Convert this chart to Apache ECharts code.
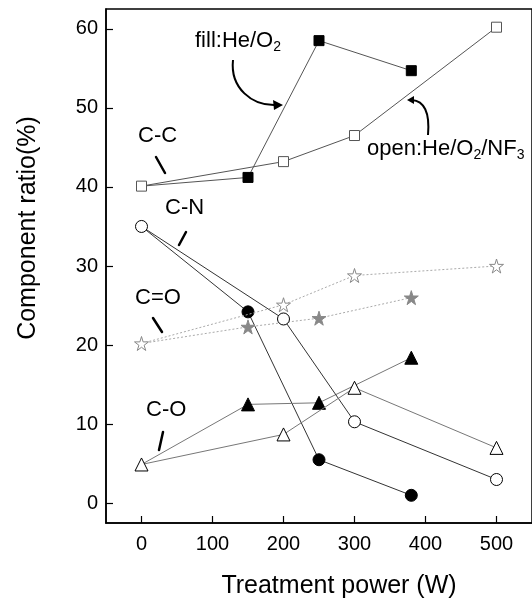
<!DOCTYPE html>
<html>
<head>
<meta charset="utf-8">
<script src="https://cdn.jsdelivr.net/npm/echarts@6/dist/echarts.min.js"></script>
<style>html,body{margin:0;padding:0;background:#fff;}#c{width:532px;height:601px;}</style>
</head>
<body>
<div id="c"></div>
<script>
// Data
const xOpen = [0, 200, 300, 500];
const xFill = [0, 150, 250, 380];
const ccOpen = [40.1, 43.2, 46.5, 60.2];
const ccFill = [40.1, 41.2, 58.5, 54.7];
const cnOpen = [35.0, 23.3, 10.3, 3.0];
const cnFill = [35.0, 24.2, 5.5, 1.0];
const cdoOpen = [20.2, 25.1, 28.8, 30.0];
const cdoFill = [20.2, 22.3, 23.4, 26.0];
const csoOpen = [4.9, 8.7, 14.6, 7.0];
const csoFill = [4.9, 12.5, 12.7, 18.4];
const xTicks = [0, 100, 200, 300, 400, 500];
const yTicks = [0, 10, 20, 30, 40, 50, 60];

const FONT = '"Liberation Sans", Arial, sans-serif';
const STAR = 'path://M50,0 L61,35 L98,35 L68,57 L79,91 L50,70 L21,91 L32,57 L2,35 L39,35 Z';

function pts(xs, ys, skipFirst) {
  return xs.map((x, i) => (skipFirst && i === 0) ? {value: [x, ys[i]], symbol: 'none'} : [x, ys[i]]);
}
function ser(name, xs, ys, opt) {
  return {
    name, type: 'line', data: pts(xs, ys, opt.skipFirst),
    symbol: opt.symbol, symbolSize: opt.size, showSymbol: true,
    lineStyle: {color: opt.line, width: 1, type: opt.dash || 'solid'},
    itemStyle: {color: opt.fill, borderColor: opt.border, borderWidth: 1},
    z: opt.z || 2, silent: true
  };
}

const chart = echarts.init(document.getElementById('c'), null, {renderer: 'canvas'});
const sub = {fontSize: 14, fontFamily: FONT, color: '#000', padding: [12, 0, 0, 0]};
function ann(x, y, txt) {
  return {type: 'text', left: x, top: y, z: 100,
    style: {text: txt, font: '22px ' + FONT, fill: '#000', rich: {s: sub}}};
}
function stroke(x1, y1, x2, y2) {
  return {type: 'line', z: 100, shape: {x1, y1, x2, y2}, style: {stroke: '#000', lineWidth: 2.5, lineCap: 'round'}};
}

chart.setOption({
  animation: false,
  backgroundColor: '#fff',
  grid: {left: 106, top: 9, right: -1, bottom: 78, show: true, borderColor: '#000', borderWidth: 1.5},
  xAxis: {
    type: 'value', min: -50, max: 550,
    axisLine: {onZero: false, lineStyle: {color: '#000', width: 1.5}},
    axisTick: {show: true, inside: true, length: 7, customValues: xTicks, lineStyle: {color: '#000', width: 1.2}},
    axisLabel: {customValues: xTicks, color: '#000', fontSize: 20, fontFamily: FONT, margin: 11},
    splitLine: {show: false}
  },
  yAxis: {
    type: 'value', min: -2.5, max: 62.5,
    axisLine: {show: true, onZero: false, lineStyle: {color: '#000', width: 1.5}},
    axisTick: {show: true, inside: true, length: 7, customValues: yTicks, lineStyle: {color: '#000', width: 1.2}},
    axisLabel: {customValues: yTicks, color: '#000', fontSize: 20, fontFamily: FONT, margin: 8},
    splitLine: {show: false}
  },
  series: [
    ser('C-C fill', xFill, ccFill, {skipFirst: true, symbol: 'rect', size: 10, line: '#555', fill: '#000', border: '#000', z: 2}),
    ser('C-C open', xOpen, ccOpen, {symbol: 'rect', size: 10, line: '#555', fill: '#fff', border: '#555', z: 3}),
    ser('C-N fill', xFill, cnFill, {skipFirst: true, symbol: 'circle', size: 12, line: '#333', fill: '#000', border: '#000', z: 2}),
    ser('C-N open', xOpen, cnOpen, {symbol: 'circle', size: 12, line: '#333', fill: '#fff', border: '#000', z: 3}),
    ser('C=O fill', xFill, cdoFill, {skipFirst: true, symbol: STAR, size: 14, line: '#aaa', dash: [2, 2], fill: '#888', border: '#888', z: 2}),
    ser('C=O open', xOpen, cdoOpen, {symbol: STAR, size: 14, line: '#aaa', dash: [2, 2], fill: '#fff', border: '#888', z: 3}),
    ser('C-O fill', xFill, csoFill, {skipFirst: true, symbol: 'triangle', size: 13, line: '#777', fill: '#000', border: '#000', z: 2}),
    ser('C-O open', xOpen, csoOpen, {symbol: 'triangle', size: 13, line: '#777', fill: '#fff', border: '#000', z: 3})
  ],
  graphic: [
    {type: 'text', z: 100, x: 28, y: 228, rotation: Math.PI / 2,
      style: {text: 'Component ratio(%)', font: '25px ' + FONT, fill: '#000', align: 'center', verticalAlign: 'middle'}},
    {type: 'text', z: 100, x: 339, y: 586,
      style: {text: 'Treatment power (W)', font: '25px ' + FONT, fill: '#000', align: 'center', verticalAlign: 'middle'}},
    ann(195, 30, 'fill:He/O{s|2}'),
    ann(367, 138, 'open:He/O{s|2}/NF{s|3}'),
    ann(138, 125, 'C-C'),
    ann(165, 197, 'C-N'),
    ann(135, 287, 'C=O'),
    ann(146, 399, 'C-O'),
    stroke(156, 157, 165, 173),
    stroke(186, 232, 179, 245),
    stroke(153, 318, 162, 332),
    stroke(163, 432, 159, 450),
    {type: 'bezierCurve', z: 100, shape: {x1: 233, y1: 60, cpx1: 230, cpy1: 88, cpx2: 252, cpy2: 106, x2: 276, y2: 105},
      style: {stroke: '#000', lineWidth: 2, fill: null}},
    {type: 'polygon', z: 100, shape: {points: [[283, 105], [273, 100], [274, 110]]}, style: {fill: '#000'}},
    {type: 'bezierCurve', z: 100, shape: {x1: 428, y1: 135, cpx1: 430, cpy1: 112, cpx2: 424, cpy2: 101, x2: 412, y2: 100},
      style: {stroke: '#000', lineWidth: 2, fill: null}},
    {type: 'polygon', z: 100, shape: {points: [[407, 100], [414, 96], [414, 104]]}, style: {fill: '#000'}}
  ]
});
</script>
</body>
</html>
